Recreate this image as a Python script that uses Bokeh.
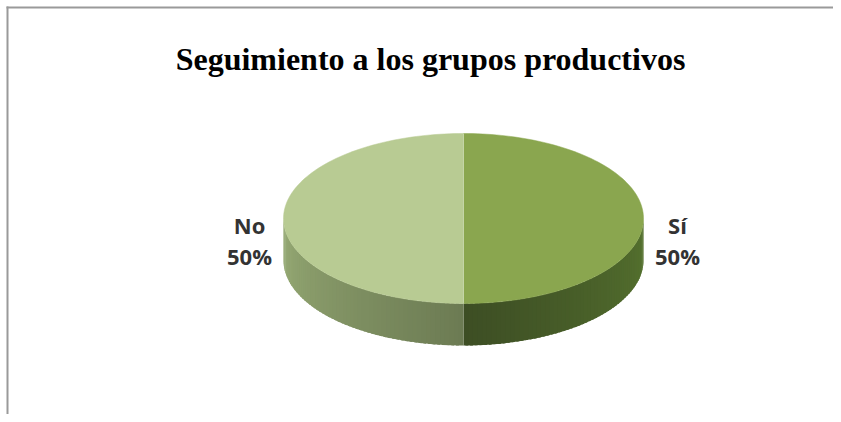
import numpy as np
from bokeh.plotting import figure
from bokeh.models import Range1d, Label, ColumnDataSource
from bokeh.core.properties import value
from bokeh.embed import file_html
from bokeh.resources import INLINE

# ---- data ----
title_text = "Seguimiento a los grupos productivos"
categories = ["Sí", "No"]
values = [50, 50]
top_colors = ["#8aa64f", "#b8cb93"]
side_colors_a = ["#3d4e24", "#6c7b53"]   # shade next to the front split
side_colors_b = ["#56732f", "#98ac76"]   # shade at the outer edge

W, H = 833, 414
p = figure(width=W, height=H, output_backend="svg", toolbar_location=None,
           x_range=Range1d(0, W), y_range=Range1d(H, 0), min_border=0)
p.axis.visible = False
p.grid.visible = False
p.outline_line_color = None
p.background_fill_color = "white"
p.border_fill_color = "white"

# frame border (left/top visible)
p.segment(x0=[7, 6], y0=[6, 7], x1=[7, W], y1=[H, 7], line_color="#9a9a9a", line_width=2)

cx, cy, rx, ry, depth = 463, 218, 180, 85, 42

def pt(t):
    return cx + rx * np.sin(t), cy - ry * np.cos(t)

def hex2rgb(h):
    h = h.lstrip("#")
    return np.array([int(h[i:i + 2], 16) for i in (0, 2, 4)], dtype=float)

def rgb2hex(c):
    return "#%02x%02x%02x" % tuple(int(round(v)) for v in c)

total = float(sum(values))
bounds = np.concatenate([[0], np.cumsum(values)]) / total * 2 * np.pi

# sides (front half: angles between pi/2 and 3pi/2)
for i in range(len(values)):
    a0, a1 = bounds[i], bounds[i + 1]
    s0, s1 = max(a0, np.pi / 2), min(a1, 3 * np.pi / 2)
    if s1 <= s0:
        continue
    n = 60
    ts = np.linspace(s0, s1, n + 1)
    ca, cb = hex2rgb(side_colors_a[i]), hex2rgb(side_colors_b[i])
    xs, ys, cols = [], [], []
    for k in range(n):
        t0 = ts[k]
        t1 = min(ts[k + 1] + (ts[1] - ts[0]) * 0.6, s1)
        x0, y0 = pt(t0)
        x1, y1 = pt(t1)
        xs.append([x0, x1, x1, x0])
        ys.append([y0, y1, y1 + depth, y0 + depth])
        d = abs((ts[k] + ts[k + 1]) / 2 - np.pi) / (np.pi / 2)
        cols.append(rgb2hex(ca + (cb - ca) * d))
    p.patches(xs=xs, ys=ys, fill_color=cols, line_color=None)

# top faces
for i in range(len(values)):
    ts = np.linspace(bounds[i], bounds[i + 1], 120)
    x, y = pt(ts)
    px = np.concatenate([[cx], x])
    py = np.concatenate([[cy], y])
    p.patch(px, py, fill_color=top_colors[i], line_color=top_colors[i], line_width=0.5)

# subtle highlight on split line
xs0, ys0 = pt(np.array([0.0, np.pi]))
p.line(x=[xs0[0], xs0[1]], y=[ys0[0], ys0[1]], line_color="#c9d8ae", line_width=1, line_alpha=0.8)

# labels
mids = (bounds[:-1] + bounds[1:]) / 2
lx, ly = [], []
for m in mids:
    x, y = pt(m)
    off = 34
    lx.append(x + off * np.sign(np.sin(m)))
    ly.append(cy + 6)
pct = ["%d%%" % round(v / total * 100) for v in values]
src = ColumnDataSource(dict(x=lx, y1=ly, y2=[y + 31 for y in ly],
                            name=categories, pct=pct))
for col, ycol in (("name", "y1"), ("pct", "y2")):
    p.text(x="x", y=ycol, text=col, source=src, text_font=value("Open Sans"),
           text_font_size="22px", text_font_style="bold", text_align="center",
           text_baseline="middle", text_color="#333333")

p.add_layout(Label(x=430, y=58, text=title_text, text_font="Liberation Serif",
                   text_font_style="bold", text_font_size="32px",
                   text_align="center", text_baseline="alphabetic", text_color="black"))

open("out.html", "w").write(file_html(p, INLINE))
